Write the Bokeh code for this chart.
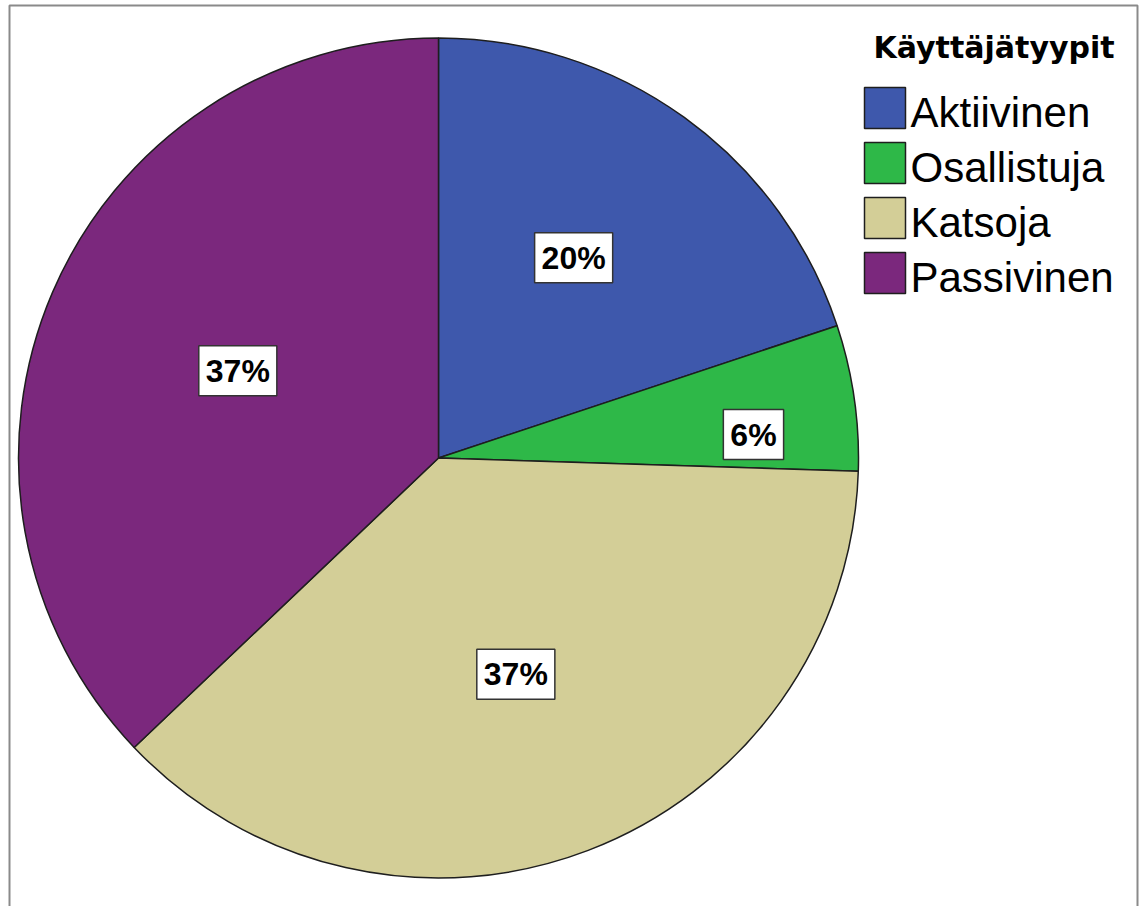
import math
from bokeh.plotting import figure
from bokeh.models import Range1d, ColumnDataSource, Label, BoxAnnotation
from bokeh.core.properties import value
from bokeh.embed import file_html
from bokeh.resources import INLINE

# ---- data ----
categories = ["Aktiivinen", "Osallistuja", "Katsoja", "Passivinen"]
percent_values = [19.9, 5.6, 37.4, 37.1]
colors = ["#3E58AC", "#2EB848", "#D3CE97", "#7B287D"]
legend_title = "Käyttäjätyypit"

# ---- layout / style ----
W, H = 1141, 906
cx, cy, R = 438, H - 457.5, 420
label_r = [0.575, 0.752, 0.547, 0.521]   # label distance as fraction of radius
label_t = [0.475, 0.70, 0.509, 0.502]    # label position within slice (0 = start, 1 = end)
leg_x, leg_top, leg_step, sw = 864, 87, 55, 41

total = sum(percent_values)
starts, ends, lx, ly, labels = [], [], [], [], []
cum = 0.0
for v, fr, t in zip(percent_values, label_r, label_t):
    a0 = math.pi / 2 - 2 * math.pi * cum / total
    cum += v
    a1 = math.pi / 2 - 2 * math.pi * cum / total
    starts.append(a1)
    ends.append(a0)
    ang = a0 + t * (a1 - a0)
    lx.append(cx + fr * R * math.cos(ang))
    ly.append(cy + fr * R * math.sin(ang))
    labels.append(f"{round(v)}%")

src = ColumnDataSource(dict(cat=categories, start=starts, end=ends, color=colors,
                            lx=lx, ly=ly, label=labels))

# legend entries built from the same category/colour arrays
n = len(categories)
leg_src = ColumnDataSource(dict(
    cat=categories, color=colors,
    sx=[leg_x + sw / 2] * n,
    sy=[H - (leg_top + sw / 2 + i * leg_step) for i in range(n)],
    tx=[leg_x + sw + 5] * n,
    ty=[H - (leg_top + 25 + i * leg_step) for i in range(n)],
))

p = figure(width=W, height=H, output_backend="svg", toolbar_location=None,
           x_range=Range1d(0, W), y_range=Range1d(0, H),
           x_axis_type=None, y_axis_type=None,
           min_border=0, min_border_left=0, min_border_right=0,
           min_border_top=0, min_border_bottom=0)
p.grid.visible = False
p.outline_line_color = None
p.background_fill_color = "white"
p.border_fill_color = "white"

p.wedge(x=cx, y=cy, radius=R, start_angle="start", end_angle="end",
        fill_color="color", line_color="#1e1e1e", line_width=1.5, source=src)

p.text(x="lx", y="ly", text="label", source=src,
       text_font=value("Liberation Sans"), text_font_style="bold",
       text_font_size="32px", text_color="black",
       text_align="center", text_baseline="middle",
       background_fill_color="white", border_line_color="#333333",
       border_line_width=1.5, padding=7)

p.rect(x="sx", y="sy", width=sw, height=sw, fill_color="color",
       line_color="#1e1e1e", line_width=1.5, source=leg_src)
p.text(x="tx", y="ty", text="cat", source=leg_src,
       text_font=value("Liberation Sans"), text_font_size="42px",
       text_color="black", text_align="left", text_baseline="middle")

p.add_layout(Label(x=873, y=H - 46.5, text=legend_title, text_font="DejaVu Sans",
                   text_font_style="bold", text_font_size="30px",
                   text_color="black", text_baseline="middle"))

p.add_layout(BoxAnnotation(left=9, right=1137, top=H - 5, bottom=-50,
                           fill_alpha=0, line_color="#8a8a8a", line_alpha=1,
                           line_width=2))

open("out.html", "w").write(file_html(p, INLINE))
